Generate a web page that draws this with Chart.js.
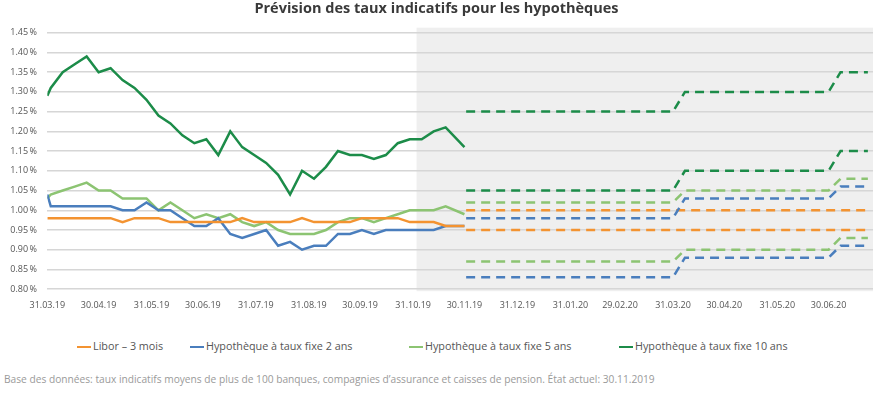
<!DOCTYPE html>
<html>
<head>
<meta charset="utf-8">
<script src="https://cdn.jsdelivr.net/npm/chart.js@4/dist/chart.umd.min.js"></script>
<style>
    body { margin: 0; background: #fff; font-family: "Open Sans", sans-serif; }
    #wrap { position: absolute; left: 0; top: 0; width: 880px; height: 314px; }
    #legend { position: absolute; top: 338px; left: 0; width: 880px; height: 16px; font-size: 10.8px; color: #555; }
    #legend span.item { position: absolute; top: 0; white-space: nowrap; }
    #legend span.mark { display: inline-block; width: 14px; height: 2px; vertical-align: middle; margin-right: 2px; }
    #note { position: absolute; top: 372px; left: 4px; font-size: 10.2px; color: #9a9a9a; white-space: nowrap; }
</style>
</head>
<body>
<div id="wrap"><canvas id="chart"></canvas></div>
<div id="legend"></div>
<div id="note">Base des données: taux indicatifs moyens de plus de 100 banques, compagnies d’assurance et caisses de pension. État actuel: 30.11.2019</div>

<script>
// x positions in days after 31.03.19
const tickDays = [0, 30, 61, 91, 122, 153, 183, 214, 244, 275, 306, 335, 366, 396, 427, 457];
const tickLabels = ['31.03.19', '30.04.19', '31.05.19', '30.06.19', '31.07.19', '31.08.19', '30.09.19', '31.10.19',
    '30.11.19', '31.12.19', '31.01.20', '29.02.20', '31.03.20', '30.04.20', '31.05.20', '30.06.20'];

// weekly history
const histDays = [0, 2, 9, 16, 23, 30, 37, 44, 51, 58, 65, 72, 79, 86, 93, 100, 107, 114, 121, 128, 135, 142,
    149, 156, 163, 170, 177, 184, 191, 198, 205, 212, 219, 226, 233, 244];

const libor = [0.98, 0.98, 0.98, 0.98, 0.98, 0.98, 0.98, 0.97, 0.98, 0.98, 0.98, 0.97, 0.97, 0.97, 0.97, 0.97, 0.97, 0.98,
    0.97, 0.97, 0.97, 0.97, 0.98, 0.97, 0.97, 0.97, 0.97, 0.98, 0.98, 0.98, 0.98, 0.97, 0.97, 0.97, 0.96, 0.96];
const fix2 = [1.04, 1.01, 1.01, 1.01, 1.01, 1.01, 1.01, 1.00, 1.00, 1.02, 1.00, 1.00, 0.98, 0.96, 0.96, 0.98, 0.94, 0.93,
    0.94, 0.95, 0.91, 0.92, 0.90, 0.91, 0.91, 0.94, 0.94, 0.95, 0.94, 0.95, 0.95, 0.95, 0.95, 0.95, 0.96, 0.96];
const fix5 = [1.03, 1.04, 1.05, 1.06, 1.07, 1.05, 1.05, 1.03, 1.03, 1.03, 1.00, 1.02, 1.00, 0.98, 0.99, 0.98, 0.99, 0.97,
    0.96, 0.97, 0.95, 0.94, 0.94, 0.94, 0.95, 0.97, 0.98, 0.98, 0.97, 0.98, 0.99, 1.00, 1.00, 1.00, 1.01, 0.99];
const fix10 = [1.29, 1.31, 1.35, 1.37, 1.39, 1.35, 1.36, 1.33, 1.31, 1.28, 1.24, 1.22, 1.19, 1.17, 1.18, 1.14, 1.20, 1.16,
    1.14, 1.12, 1.09, 1.04, 1.10, 1.08, 1.11, 1.15, 1.14, 1.14, 1.13, 1.14, 1.17, 1.18, 1.18, 1.20, 1.21, 1.16];

// forecast ranges (dashed)
const fcDays = [245, 366, 373, 457, 464, 480];
const liborHigh = [1.00, 1.00, 1.00, 1.00, 1.00, 1.00];
const liborLow = [0.95, 0.95, 0.95, 0.95, 0.95, 0.95];
const fix2High = [0.98, 0.98, 1.03, 1.03, 1.06, 1.06];
const fix2Low = [0.83, 0.83, 0.88, 0.88, 0.91, 0.91];
const fix5High = [1.02, 1.02, 1.05, 1.05, 1.08, 1.08];
const fix5Low = [0.87, 0.87, 0.90, 0.90, 0.93, 0.93];
const fix10High = [1.25, 1.25, 1.30, 1.30, 1.35, 1.35];
const fix10Low = [1.05, 1.05, 1.10, 1.10, 1.15, 1.15];

const forecastStart = 216;

const seriesNames = ['Libor – 3 mois', 'Hypothèque à taux fixe 2 ans', 'Hypothèque à taux fixe 5 ans', 'Hypothèque à taux fixe 10 ans'];
const colors = ['#f39331', '#4a7ebd', '#8cc472', '#1c8c49'];

function pts(days, vals) {
    return vals.map((v, i) => ({ x: days[i], y: v }));
}

function histSet(i, vals) {
    return {
        label: seriesNames[i],
        data: pts(histDays, vals),
        borderColor: colors[i],
        borderWidth: 2.5,
        pointRadius: 0,
        tension: 0
    };
}

function fcSet(i, vals) {
    return {
        label: seriesNames[i] + ' (prévision)',
        data: pts(fcDays, vals),
        borderColor: colors[i],
        borderWidth: 2.5,
        borderDash: [9, 6],
        pointRadius: 0,
        tension: 0
    };
}

// grey band behind the forecast period
const shadePlugin = {
    id: 'shade',
    beforeDraw(chart) {
        const { ctx, chartArea, scales } = chart;
        const x0 = scales.x.getPixelForValue(forecastStart);
        ctx.save();
        ctx.fillStyle = '#efefef';
        ctx.fillRect(x0, chartArea.top - 5, chartArea.right - x0, chartArea.bottom - chartArea.top + 7);
        ctx.restore();
    }
};

const ctx = document.getElementById('chart').getContext('2d');
new Chart(ctx, {
    type: 'line',
    data: {
        datasets: [
            histSet(0, libor), histSet(1, fix2), histSet(2, fix5), histSet(3, fix10),
            fcSet(3, fix10High), fcSet(3, fix10Low),
            fcSet(2, fix5High), fcSet(2, fix5Low),
            fcSet(1, fix2High), fcSet(1, fix2Low),
            fcSet(0, liborHigh), fcSet(0, liborLow)
        ]
    },
    options: {
        responsive: true,
        maintainAspectRatio: false,
        animation: false,
        layout: { padding: { left: 0, right: 7, top: 0, bottom: 0 } },
        plugins: {
            legend: { display: false },
            tooltip: { enabled: false },
            title: {
                display: true,
                text: 'Prévision des taux indicatifs pour les hypothèques',
                color: '#3a3a3a',
                font: { family: 'Open Sans', size: 14.5, weight: 'bold' },
                padding: { top: 0, bottom: 15.3 }
            }
        },
        scales: {
            x: {
                type: 'linear',
                min: 0,
                max: 483,
                afterBuildTicks: scale => {
                    scale.ticks = tickDays.map(d => ({ value: d }));
                },
                ticks: {
                    autoSkip: false,
                    maxRotation: 0,
                    padding: 3,
                    color: '#555',
                    font: { family: 'Open Sans', size: 9 },
                    callback: value => tickLabels[tickDays.indexOf(value)]
                },
                grid: { display: false },
                border: { display: false }
            },
            y: {
                min: 0.8,
                max: 1.45,
                ticks: {
                    stepSize: 0.05,
                    padding: 10.3,
                    color: '#555',
                    font: { family: 'Open Sans', size: 9 },
                    callback: value => value.toFixed(2) + '\u2009%'
                },
                grid: { color: '#d6d6d6', lineWidth: 1.5, drawTicks: false },
                border: { display: false }
            }
        }
    },
    plugins: [shadePlugin]
});

// legend
const legend = document.getElementById('legend');
const legendLeft = [77, 190, 409, 619];
seriesNames.forEach((name, i) => {
    const item = document.createElement('span');
    item.className = 'item';
    item.style.left = legendLeft[i] + 'px';
    const mark = document.createElement('span');
    mark.className = 'mark';
    mark.style.background = colors[i];
    item.appendChild(mark);
    item.appendChild(document.createTextNode(name));
    legend.appendChild(item);
});
</script>
</body>
</html>
